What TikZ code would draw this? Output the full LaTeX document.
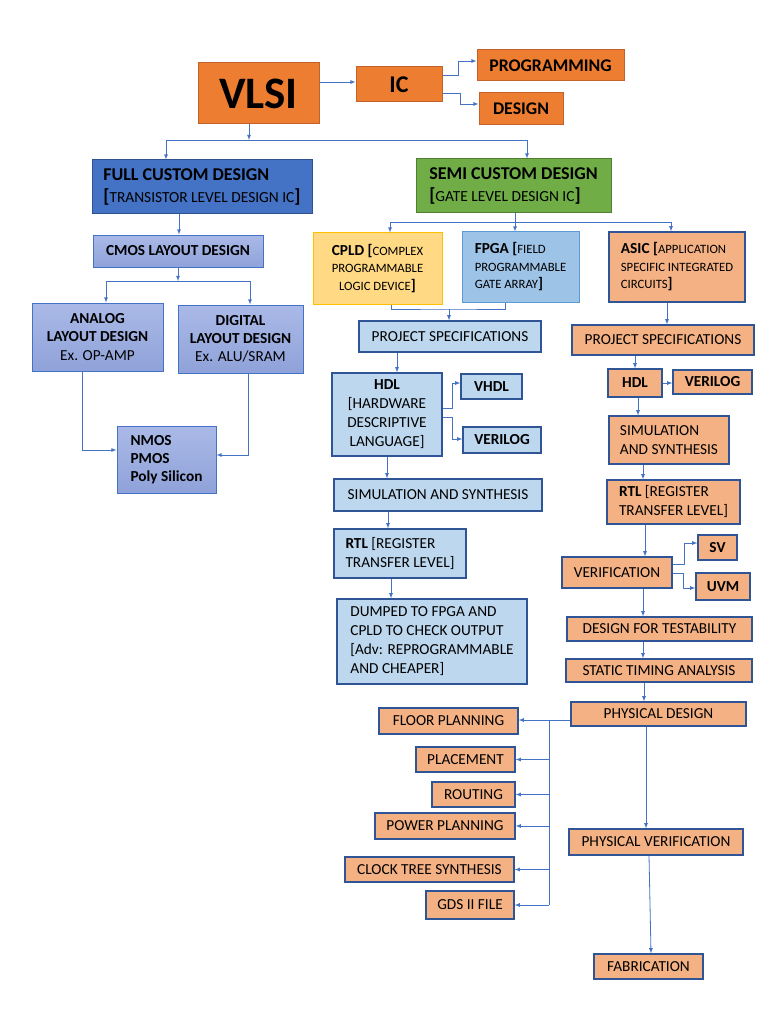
\documentclass[tikz,border=0pt]{standalone}
\usepackage{fontspec}
\setmainfont{Carlito}

\definecolor{vlsiF}{HTML}{ED7D31}
\definecolor{vlsiD}{HTML}{C0622A}
\definecolor{fullF}{HTML}{4472C4}
\definecolor{fullD}{HTML}{2F528F}
\definecolor{semiF}{HTML}{70AD47}
\definecolor{semiD}{HTML}{507E32}
\definecolor{cmosT}{HTML}{AAB9E7}
\definecolor{cmosB}{HTML}{8FA2D9}
\definecolor{cpldF}{HTML}{FFD983}
\definecolor{cpldD}{HTML}{FFC000}
\definecolor{fpgaF}{HTML}{9DC3E6}
\definecolor{fpgaD}{HTML}{5B9BD5}
\definecolor{asicF}{HTML}{F4B183}
\definecolor{lightF}{HTML}{BDD7EE}
\definecolor{darkD}{HTML}{2F5597}
\definecolor{linkC}{HTML}{4472C4}

\newcommand{\capsmall}{\fontsize{12.7}{17.5}\selectfont}
\newcommand{\hd}[1]{{\fontsize{15.3}{17.5}\selectfont\bfseries #1}}
\newcommand{\bigbr}[1]{{\fontsize{19}{22}\selectfont\bfseries #1}}

\begin{document}
\begin{tikzpicture}[x=1pt, y=-1pt,
  box/.style={draw, rectangle, line width=1pt, inner sep=2pt, text=black, align=center, font=\fontsize{15.3}{19}\selectfont},
  sz/.style 2 args={minimum width=#1pt, minimum height=#2pt},
  topbox/.style={box, fill=vlsiF, draw=vlsiD},
  cmosbox/.style={box, top color=cmosT, bottom color=cmosB, draw=fullF},
  asicbox/.style={box, fill=asicF, draw=darkD, line width=1.3pt},
  lightbox/.style={box, fill=lightF, draw=darkD, line width=1.3pt},
  link/.style={draw=linkC, line width=0.8pt, -{latex[scale=1.4]}},
  line/.style={draw=linkC, line width=0.8pt}]
\path[use as bounding box, fill=white] (0,0) rectangle (768,1024); % page

% top
\node[topbox, sz={121}{61}, font=\fontsize{45}{50}\selectfont\bfseries] (vlsi) at (258.5,93.5) {VLSI};
\node[topbox, sz={86}{35}, font=\fontsize{24}{28}\selectfont\bfseries] (ic) at (399,84.5) {IC};
\node[topbox, sz={147}{31}, font=\fontsize{17.8}{20}\selectfont\bfseries] (prog) at (550.5,65.5) {PROGRAMMING};
\node[topbox, sz={84}{32}, font=\fontsize{17.8}{20}\selectfont\bfseries] (design) at (521,109) {DESIGN};
\node[box, fill=fullF, draw=fullD, sz={220}{54}, align=left, font=\fontsize{15.4}{22}\selectfont] (full) at (202,187) {{\fontsize{18}{22}\selectfont\bfseries FULL CUSTOM DESIGN}\\\bigbr{[}TRANSISTOR LEVEL DESIGN IC\bigbr{]}};
\node[box, fill=semiF, draw=semiD, sz={195}{54}, align=left, font=\fontsize{15.4}{22}\selectfont] (semi) at (513.5,186) {{\fontsize{18}{22}\selectfont\bfseries SEMI CUSTOM DESIGN}\\\bigbr{[}GATE LEVEL DESIGN IC\bigbr{]}};

% full custom
\node[cmosbox, sz={170}{32}] (cmos) at (178,251) {\textbf{CMOS LAYOUT DESIGN}};
\node[cmosbox, sz={131}{68}, font=\fontsize{15.3}{18.3}\selectfont] (analog) at (97.5,337) {\textbf{ANALOG}\\\textbf{LAYOUT DESIGN}\\Ex. OP-AMP};
\node[cmosbox, sz={125}{68}, font=\fontsize{15.3}{18.3}\selectfont] (digital) at (240.5,339) {\textbf{DIGITAL}\\\textbf{LAYOUT DESIGN}\\Ex. ALU/SRAM};
\node[cmosbox, sz={99}{67}, align=left, font=\fontsize{15.3}{17.7}\selectfont\bfseries] (nmos) at (166.5,459.5) {NMOS\\PMOS\\Poly Silicon};

% semi custom
\node[box, fill=cpldF, draw=cpldD, sz={129}{71}, font=\capsmall] (cpld) at (377.5,268.5) {\hd{CPLD [}COMPLEX\\PROGRAMMABLE\\LOGIC DEVICE\hd{]}};
\node[box, fill=fpgaF, draw=fpgaD, sz={117}{70}, align=left, font=\capsmall] (fpga) at (520.5,267) {\hd{FPGA [}FIELD\\PROGRAMMABLE\\GATE ARRAY\hd{]}};
\node[asicbox, sz={136}{70}, align=left, font=\capsmall] (asic) at (677,267) {\hd{ASIC [}APPLICATION\\SPECIFIC INTEGRATED\\CIRCUITS\hd{]}};

% fpga / cpld flow
\node[lightbox, sz={182}{31}] (projL) at (450,336.5) {PROJECT SPECIFICATIONS};
\node[lightbox, sz={110}{83}] (hdlL) at (387,414.5) {\textbf{HDL}\\{[}HARDWARE\\DESCRIPTIVE\\LANGUAGE]};
\node[lightbox, sz={61}{25}] (vhdl) at (491.5,386.5) {\textbf{VHDL}};
\node[lightbox, sz={78}{26}] (verilogL) at (502,440) {\textbf{VERILOG}};
\node[lightbox, sz={208}{32}, align=left] (simL) at (438,495) {SIMULATION AND SYNTHESIS};
\node[lightbox, sz={132}{49}, align=left] (rtlL) at (400,553.5) {\textbf{RTL} [REGISTER\\TRANSFER LEVEL]};
\node[lightbox, sz={190}{85}, align=left] (dumped) at (432,641.5) {DUMPED TO FPGA AND\\CPLD TO CHECK OUTPUT\\{[}Adv: REPROGRAMMABLE\\AND CHEAPER]};

% asic flow
\node[asicbox, sz={182}{30}] (projR) at (663,340) {PROJECT SPECIFICATIONS};
\node[asicbox, sz={54}{28}] (hdlR) at (635,383) {\textbf{HDL}};
\node[asicbox, sz={79}{24}] (verilogR) at (712.5,382) {\textbf{VERILOG}};
\node[asicbox, sz={120}{48}, align=left] (simR) at (669,440) {SIMULATION\\AND SYNTHESIS};
\node[asicbox, sz={133}{44}, align=left] (rtlR) at (673.5,502) {\textbf{RTL} [REGISTER\\TRANSFER LEVEL]};
\node[asicbox, sz={110}{31}] (verif) at (617,572.5) {VERIFICATION};
\node[asicbox, sz={39}{25}] (sv) at (717.5,547.5) {\textbf{SV}};
\node[asicbox, sz={54}{27}] (uvm) at (723,586.5) {\textbf{UVM}};
\node[asicbox, sz={185}{24}] (dft) at (659.5,629) {DESIGN FOR TESTABILITY};
\node[asicbox, sz={186}{23}] (sta) at (659,670.5) {STATIC TIMING ANALYSIS};
\node[asicbox, sz={175}{24}] (pd) at (658.5,714) {PHYSICAL DESIGN};
\node[asicbox, sz={139}{26}] (floor) at (448.5,721) {FLOOR PLANNING};
\node[asicbox, sz={99}{25}] (place) at (465.5,759.5) {PLACEMENT};
\node[asicbox, sz={83}{25}] (routing) at (473.5,794.5) {ROUTING};
\node[asicbox, sz={140}{26}] (power) at (445,826) {POWER PLANNING};
\node[asicbox, sz={169}{25}] (cts) at (429.5,869.5) {CLOCK TREE SYNTHESIS};
\node[asicbox, sz={88}{28}] (gds) at (470,905) {GDS II FILE};
\node[asicbox, sz={174}{26}] (pv) at (656,842) {PHYSICAL VERIFICATION};
\node[asicbox, sz={109}{25}] (fab) at (648.5,966.5) {FABRICATION};

% split points
\coordinate (vsplit) at (249,140);
\coordinate (csplit) at (178,281);
\coordinate (ssplit) at (515,222);
\coordinate (pjoin) at (449,309);
\coordinate (pbus) at (549,720);

% top links
\draw[link] ([yshift=11.5]vlsi.east) -- ([yshift=2.5]ic.west);
\draw[link] ([yshift=9.5]ic.east) -- ++(16,0) |- ([yshift=4.5]prog.west);
\draw[link] ([yshift=-8.5]ic.east) -- ++(18,0) |- ([yshift=5]design.west);
\draw[link] ([xshift=-9.5]vlsi.south) -- (vsplit);
\draw[link] (vsplit) -| ([xshift=-36]full.north);
\draw[link] (vsplit) -| ([xshift=13.5]semi.north);

% full custom links
\draw[link] ([xshift=-23]full.south) -- ([xshift=1]cmos.north);
\draw[link] (cmos.south) -- (csplit);
\draw[link] (csplit) -| ([xshift=8.5]analog.north);
\draw[link] (csplit) -| ([xshift=9.5]digital.north);
\draw[link] ([xshift=-15.5]analog.south) |- ([yshift=9.5]nmos.west);
\draw[link] ([xshift=7.5]digital.south) |- ([yshift=4.5]nmos.east);

% semi custom links
\draw[link] ([xshift=1.5]semi.south) -- ([xshift=-5.5]fpga.north);
\draw[link] (ssplit) -| ([xshift=12.5]cpld.north);
\draw[link] (ssplit) -| ([xshift=-6]asic.north);
\draw[line] ([xshift=13.5]cpld.south) |- (pjoin) -| ([xshift=-15.5]fpga.south);
\draw[link] (pjoin) -- (pjoin |- projL.north);
\draw[link] ([xshift=-53]projL.south) -- ([xshift=10]hdlL.north);
\draw[link] ([yshift=6.5]hdlL.east) -- ++(10,0) |- ([yshift=3.5]vhdl.west);
\draw[link] ([yshift=-2.5]hdlL.east) -- ++(10,0) |- ([yshift=1]verilogL.west);
\draw[link] (hdlL.south) -- ([xshift=-51]simL.north);
\draw[link] ([xshift=-50]simL.south) -- ([xshift=-12]rtlL.north);
\draw[link] ([xshift=-9]rtlL.south) -- ([xshift=-41]dumped.north);

% asic links
\draw[link] ([xshift=-10]asic.south) -- ([xshift=4]projR.north);
\draw[link] (hdlR.north |- projR.south) -- (hdlR.north);
\draw[link] (hdlR.east) -- ([yshift=-1]verilogR.west);
\draw[link] ([xshift=3]hdlR.south) -- ([xshift=-31]simR.north);
\draw[link] ([xshift=-26]simR.south) -- ([xshift=-30.5]rtlR.north);
\draw[link] ([xshift=-28.5]rtlR.south) -- ([xshift=28]verif.north);
\draw[link] ([yshift=8.5]verif.east) -- ++(12,0) |- ([yshift=4.5]sv.west);
\draw[link] ([yshift=-0.5]verif.east) -- ++(11,0) |- ([yshift=-1.5]uvm.west);
\draw[link] ([xshift=26]verif.south) -- ([xshift=-16.5]dft.north);
\draw[link] ([xshift=-16.5]dft.south) -- ([xshift=-16]sta.north);
\draw[link] ([xshift=-15]sta.south) -- ([xshift=-14.5]pd.north);
\draw[link] ([yshift=-6]pd.west) -- ([yshift=1]floor.east);
\draw[line] (pbus) -- (pbus |- gds.east); % bus
\foreach \n in {place,routing,power,cts,gds}
  \draw[link] (pbus |- \n.east) -- (\n.east);
\draw[link] ([xshift=-12.5]pd.south) -- ([xshift=-10]pv.north);
\draw[link] ([xshift=-7]pv.south) -- ([xshift=2.5]fab.north);
\end{tikzpicture}
\end{document}
